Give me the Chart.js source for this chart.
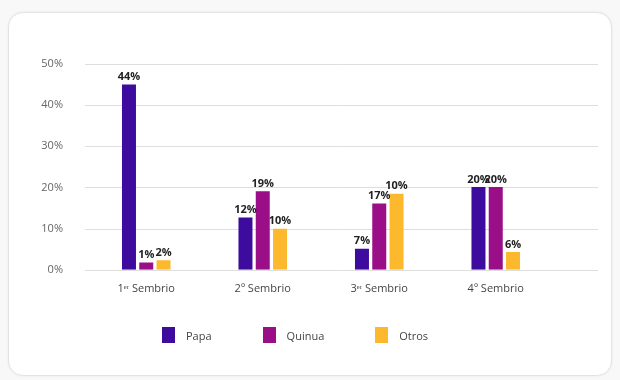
<!DOCTYPE html>
<html>
<head>
<meta charset="utf-8">
<script src="https://cdn.jsdelivr.net/npm/chart.js"></script>
<style>
  body {
    margin: 0;
    background: #f8f8f8;
    font-family: "Open Sans", sans-serif;
  }
  .card {
    position: absolute;
    left: 8px;
    top: 12px;
    width: 602px;
    height: 362px;
    background: #fff;
    border: 1px solid #e3e3e3;
    border-radius: 15px;
    box-shadow: 0 0 3px rgba(0, 0, 0, 0.06);
  }
  #sembrioChart {
    position: absolute;
    left: 0;
    top: 0;
  }
  #legend {
    position: absolute;
    top: 327px;
    left: 162px;
    display: flex;
    font-size: 11px;
    color: #444;
  }
  #legend .item {
    display: flex;
    align-items: center;
    margin-right: 51px;
  }
  #legend .box {
    width: 13px;
    height: 16px;
    margin-right: 11px;
  }
</style>
</head>
<body>
<div class="card"></div>
<canvas id="sembrioChart" width="620" height="380"></canvas>
<div id="legend"></div>
<script>
const categorias = ["1ᵉʳ Sembrio", "2º Sembrio", "3ᵉʳ Sembrio", "4º Sembrio"];
const papa = [45, 12.7, 5.1, 20.1];
const quinua = [1.8, 19.1, 16.1, 20.1];
const otros = [2.3, 10, 18.5, 4.3];
// etiquetas tal como aparecen sobre las barras
const papaEtiquetas = ["44%", "12%", "7%", "20%"];
const quinuaEtiquetas = ["1%", "19%", "17%", "20%"];
const otrosEtiquetas = ["2%", "10%", "10%", "6%"];
const ejeY = [0, 10, 20, 30, 40, 50];

const etiquetas = [papaEtiquetas, quinuaEtiquetas, otrosEtiquetas];

const gridExtendido = {
  id: "gridExtendido",
  beforeDatasetsDraw(chart) {
    const c = chart.ctx;
    const y = chart.scales.y;
    c.save();
    c.strokeStyle = "#dedede";
    c.lineWidth = 1;
    y.ticks.forEach(function (t) {
      const py = Math.round(y.getPixelForValue(t.value)) + 0.5;
      c.beginPath();
      c.moveTo(chart.chartArea.left - 3, py);
      c.lineTo(chart.chartArea.right + 44, py);
      c.stroke();
    });
    c.restore();
  },
};

const valoresBarras = {
  id: "valoresBarras",
  afterDatasetsDraw(chart) {
    const c = chart.ctx;
    c.save();
    c.font = "bold 11px 'Open Sans'";
    c.fillStyle = "#222";
    c.textAlign = "center";
    c.textBaseline = "bottom";
    chart.data.datasets.forEach(function (ds, i) {
      chart.getDatasetMeta(i).data.forEach(function (bar, j) {
        c.fillText(etiquetas[i][j], bar.x, bar.y - 2);
      });
    });
    c.restore();
  },
};

const ctx = document.getElementById("sembrioChart").getContext("2d");
const chart = new Chart(ctx, {
  type: "bar",
  data: {
    labels: categorias,
    datasets: [
      {
        label: "Papa",
        data: papa,
        backgroundColor: "#3d0b9e",
      },
      {
        label: "Quinua",
        data: quinua,
        backgroundColor: "#9a0f88",
      },
      {
        label: "Otros",
        data: otros,
        backgroundColor: "#fdb92e",
      },
    ],
  },
  options: {
    responsive: false,
    animation: false,
    categoryPercentage: 0.445,
    barPercentage: 0.81,
    layout: {
      padding: { left: 36, right: 66, top: 64, bottom: 81 },
    },
    plugins: {
      legend: { display: false },
      tooltip: { enabled: false },
    },
    scales: {
      y: {
        min: ejeY[0],
        max: ejeY[ejeY.length - 1],
        afterBuildTicks: function (scale) {
          scale.ticks = ejeY.map(function (v) {
            return { value: v };
          });
        },
        afterFit: function (scale) {
          scale.width = 52;
        },
        grid: { display: false },
        border: { display: false },
        ticks: {
          padding: 17,
          color: "#666",
          font: { family: "Open Sans", size: 11 },
          callback: function (v) {
            return v + "%";
          },
        },
      },
      x: {
        grid: { display: false },
        border: { display: false },
        ticks: {
          padding: 4,
          color: "#444",
          font: { family: "Open Sans", size: 11 },
        },
      },
    },
  },
  plugins: [gridExtendido, valoresBarras],
});

// leyenda
const legend = document.getElementById("legend");
chart.data.datasets.forEach(function (ds) {
  const item = document.createElement("div");
  item.className = "item";
  const box = document.createElement("span");
  box.className = "box";
  box.style.background = ds.backgroundColor;
  const txt = document.createElement("span");
  txt.textContent = ds.label;
  item.appendChild(box);
  item.appendChild(txt);
  legend.appendChild(item);
});
</script>
</body>
</html>
